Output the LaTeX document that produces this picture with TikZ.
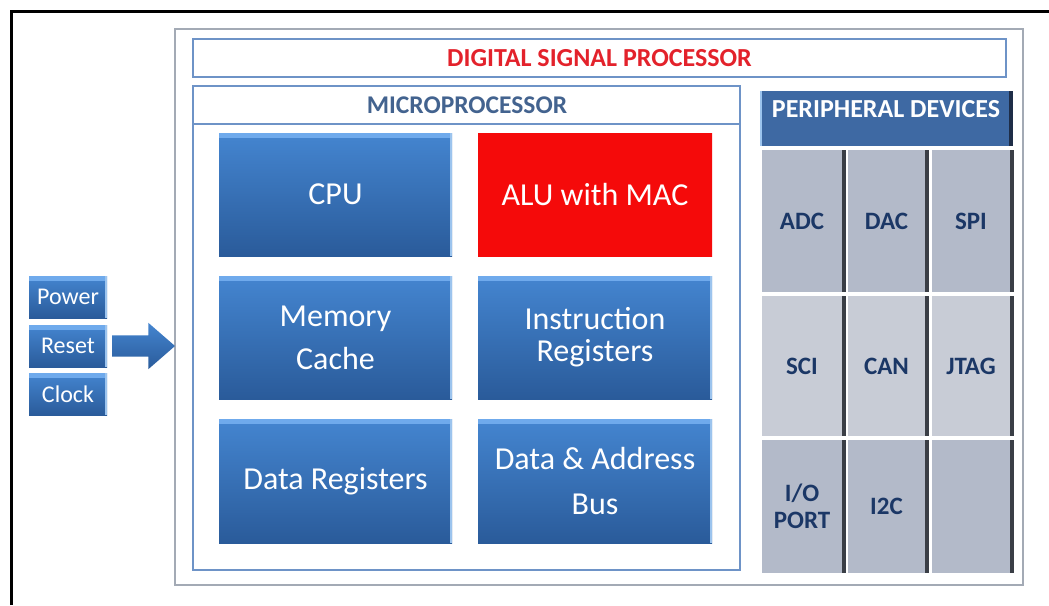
\documentclass[tikz,border=0pt]{standalone}
\usepackage{fontspec}
\setmainfont{Carlito}
\usetikzlibrary{shapes.arrows}
\definecolor{boxtop}{HTML}{4485D0}
\definecolor{boxbot}{HTML}{2A5B9A}
\definecolor{boxhi}{HTML}{6FAAEC}
\definecolor{boxedge}{HTML}{9CC4EE}
\definecolor{framegray}{HTML}{A3AAB5}
\definecolor{lineblue}{HTML}{6E93C7}
\definecolor{titlered}{HTML}{E3222B}
\definecolor{microtxt}{HTML}{43638F}
\definecolor{alured}{HTML}{F50A0A}
\definecolor{phblue}{HTML}{3E69A3}
\definecolor{phdark}{HTML}{1E2D47}
\definecolor{cellA}{HTML}{B3BAC9}
\definecolor{cellB}{HTML}{C8CCD6}
\definecolor{sepc}{HTML}{3A3E46}
\definecolor{navy}{HTML}{1B3766}
\begin{document}
\begin{tikzpicture}[x=1pt,y=-1pt,
  every node/.style={inner sep=0pt,outer sep=0pt},
  bluebox/.style={anchor=north west,top color=boxtop,bottom color=boxbot,
    text=white,align=center,font=\fontsize{32}{36}\selectfont,
    path picture={\fill[boxhi] (path picture bounding box.north west) rectangle ([yshift=-5pt]path picture bounding box.north east);
      \fill[boxedge] ([xshift=-2pt]path picture bounding box.north east) rectangle (path picture bounding box.south east);}},
  smallbox/.style={bluebox,minimum width=78pt,minimum height=42pt,font=\fontsize{24}{26}\selectfont},
  cell/.style={anchor=north west,text=navy,align=center,font=\bfseries\fontsize{25}{27}\selectfont},
  thinframe/.style={anchor=north west,draw=lineblue,line width=2pt}
]
\useasboundingbox (0,0) rectangle (1049,605);
\fill[white] (0,0) rectangle (1049,605);
\draw[line width=3pt] (11.5,605) -- (11.5,11.5) -- (1049,11.5);

% outer DSP frame
\node[anchor=north west,draw=framegray,line width=2pt,minimum width=848pt,minimum height=556pt] (dsp) at (175,29) {};
\node[thinframe,minimum width=813pt,minimum height=38pt,text=titlered,font=\bfseries\fontsize{26}{28}\selectfont] (title) at (193,39) {DIGITAL SIGNAL PROCESSOR};

% microprocessor
\node[thinframe,minimum width=547pt,minimum height=484pt] (micro) at (193,86) {};
\draw[lineblue,line width=2pt] (micro.west |- 0,124) -- (micro.east |- 0,124);
\node[text=microtxt,font=\bfseries\fontsize{25.5}{27}\selectfont] (microlabel) at (467,105) {MICROPROCESSOR};

\node[bluebox,minimum width=233pt,minimum height=123pt] (cpu) at (219,133) {CPU};
\node[bluebox,minimum width=234pt,minimum height=123pt,top color=alured,bottom color=alured,
  path picture={}] (alu) at (478,133) {ALU with MAC};
\node[bluebox,minimum width=233pt,minimum height=123pt] (mem) at (219,276) {Memory\\[7pt]Cache};
\node[bluebox,minimum width=234pt,minimum height=123pt] (instr) at (478,276) {Instruction\\[-4pt]Registers};
\node[bluebox,minimum width=233pt,minimum height=124pt] (dreg) at (219,419) {Data Registers};
\node[bluebox,minimum width=234pt,minimum height=124pt] (bus) at (478,419) {Data \& Address\\[9pt]Bus};

% peripheral devices
\node[anchor=north west,fill=phblue,minimum width=253pt,minimum height=55pt,
  path picture={\fill[phdark] ([xshift=-4pt]path picture bounding box.north east) rectangle (path picture bounding box.south east);
    \fill[boxedge] (path picture bounding box.north west) rectangle ([xshift=2pt]path picture bounding box.south west);}] (phead) at (760,91) {};
\node[text=white,font=\bfseries\fontsize{26}{28}\selectfont] (pheadlabel) at (886,109) {PERIPHERAL DEVICES};

\node[cell,fill=cellA,minimum width=80pt,minimum height=142pt] (adc) at (762,150) {ADC};
\node[cell,fill=cellA,minimum width=77pt,minimum height=142pt] (dac) at (848,150) {DAC};
\node[cell,fill=cellA,minimum width=78pt,minimum height=142pt] (spi) at (932,150) {SPI};
\node[cell,fill=cellB,minimum width=80pt,minimum height=140pt] (sci) at (762,296) {SCI};
\node[cell,fill=cellB,minimum width=77pt,minimum height=140pt] (can) at (848,296) {CAN};
\node[cell,fill=cellB,minimum width=78pt,minimum height=140pt] (jtag) at (932,296) {JTAG};
\node[cell,fill=cellA,minimum width=80pt,minimum height=133pt] (io) at (762,440) {I/O\\PORT};
\node[cell,fill=cellA,minimum width=77pt,minimum height=133pt] (itc) at (848,440) {I2C};
\node[cell,fill=cellA,minimum width=78pt,minimum height=133pt] (blank) at (932,440) {};
\foreach \n in {adc,dac,spi,sci,can,jtag,io,itc,blank}
  \fill[sepc] (\n.north east) rectangle ([xshift=4pt]\n.south east);

% inputs
\node[smallbox] (power) at (29,276) {Power};
\node[smallbox] (reset) at (29,325) {Reset};
\node[smallbox] (clock) at (29,373) {Clock};
\node[single arrow,top color=boxtop,bottom color=boxbot,inner xsep=0pt,inner ysep=10.5pt,
  minimum height=63pt,minimum width=0pt,
  single arrow head extend=12.5pt,single arrow tip angle=82,anchor=tip] (inarrow) at (dsp.west |- reset.east) {};
\end{tikzpicture}
\end{document}
